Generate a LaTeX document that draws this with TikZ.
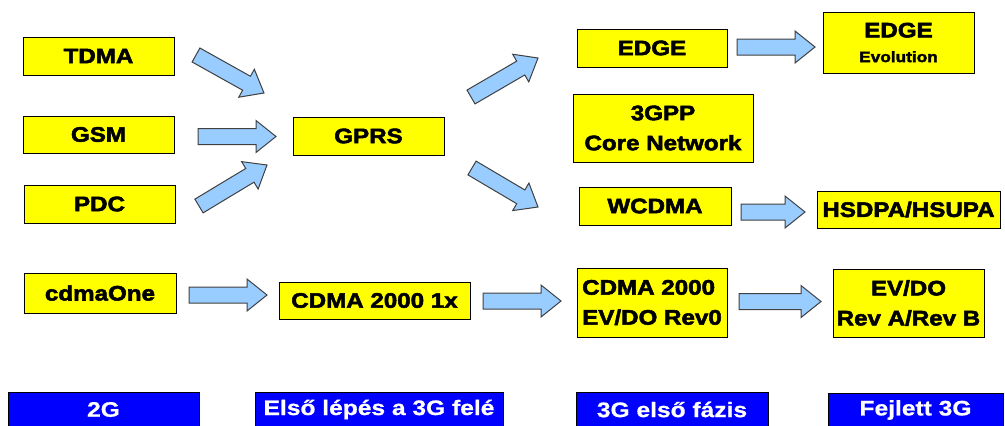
\documentclass[tikz,border=0pt]{standalone}
\usepackage{fontspec}
\usetikzlibrary{calc}
\newfontfamily\heavy{Liberation Sans}[FakeStretch=1.15, BoldFeatures={FakeBold=2.5}]
\newfontfamily\bandfont{Liberation Sans}[FakeStretch=1.17, BoldFeatures={FakeBold=0.8}]
\definecolor{boxyellow}{RGB}{255,255,0}
\definecolor{arrowblue}{RGB}{153,204,255}
\definecolor{bandblue}{RGB}{0,0,255}

% block arrow: name, tail centre, tip
\newcommand\fatarrow[3]{%
  \coordinate (#1-tail) at (#2);
  \coordinate (#1-tip) at (#3);
  \coordinate (#1-neck) at ($(#1-tip)!15pt!(#1-tail)$);
  \draw[blockarrow] ($(#1-tail)!6pt!90:(#1-tip)$) -- ($(#1-neck)!6pt!90:(#1-tip)$)
    -- ($(#1-neck)!12pt!90:(#1-tip)$) -- (#1-tip) -- ($(#1-neck)!12pt!-90:(#1-tip)$)
    -- ($(#1-neck)!6pt!-90:(#1-tip)$) -- ($(#1-tail)!6pt!-90:(#1-tip)$) -- cycle;}

\begin{document}
\begin{tikzpicture}[x=0.75pt,y=-0.75pt,
  size/.style 2 args={minimum width=#1*0.75pt, minimum height=#2*0.75pt},
  tech/.style={draw=black, fill=boxyellow, line width=0.75pt, inner sep=0pt,
    align=center, font=\heavy\bfseries\fontsize{15.75}{22.5}\selectfont},
  era/.style={draw=black, fill=bandblue, text=white, line width=0.75pt, inner sep=0pt,
    font=\bandfont\bfseries\fontsize{15.75}{19}\selectfont},
  blockarrow/.style={draw=black!75, fill=arrowblue, line width=0.75pt, line join=miter}]
\useasboundingbox (0,0) rectangle (1005,425);

% 2G systems
\node[tech, size={151}{38}] (tdma) at (98.5,56) {TDMA};
\node[tech, size={151}{37}] (gsm) at (98.5,134.5) {GSM};
\node[tech, size={151}{38}] (pdc) at (99.5,204) {PDC};
\node[tech, size={152}{40}] (cdmaone) at (100,293) {cdmaOne};

% first step towards 3G
\node[tech, size={151}{38}] (gprs) at (368.5,136) {GPRS};
\node[tech, size={191}{37}] (cdma1x) at (374.5,300.5) {CDMA 2000 1x};

% 3G first phase
\node[tech, size={150}{38}] (edge) at (652,48) {EDGE};
\node[tech, size={180}{68}] (core) at (663,128) {3GPP\\Core Network};
\node[tech, size={152}{38}] (wcdma) at (655,206) {WCDMA};
\node[tech, size={150}{69}, align=left] (rev0) at (652,302.5) {CDMA 2000\\EV/DO Rev0};

% advanced 3G
\node[tech, size={151}{61}] (edgeevo) at (898.5,42.5)
  {EDGE\\[-4pt]{\fontsize{11.25}{15}\selectfont Evolution}};
\node[tech, size={183}{37}] (hspa) at (908.5,209.5) {HSDPA/HSUPA};
\node[tech, size={151}{68}] (revab) at (908.5,303) {EV/DO\\Rev A/Rev B};

% evolution arrows
\fatarrow{a1}{196,55}{264,93}
\fatarrow{a2}{198,136.5}{276,136.5}
\fatarrow{a3}{199,206}{267,165}
\fatarrow{a4}{471,97}{538,58}
\fatarrow{a5}{472,168}{538,207}
\fatarrow{a6}{737,47}{815,47}
\fatarrow{a7}{741,212}{805,212}
\fatarrow{a8}{189,295}{267,295}
\fatarrow{a9}{483,301}{561,301}
\fatarrow{a10}{739,301.5}{821,301.5}

% generation bands
\node[era, size={191}{35}] (gen2) at (103.5,409.5) {2G};
\node[era, size={248}{35}] (step) at (379,409.5) {Első lépés a 3G felé};
\node[era, size={192}{35}] (first3g) at (672,409.5) {3G első fázis};
\node[era, size={175}{34}] (adv3g) at (915.5,410) {Fejlett 3G};
\end{tikzpicture}
\end{document}
